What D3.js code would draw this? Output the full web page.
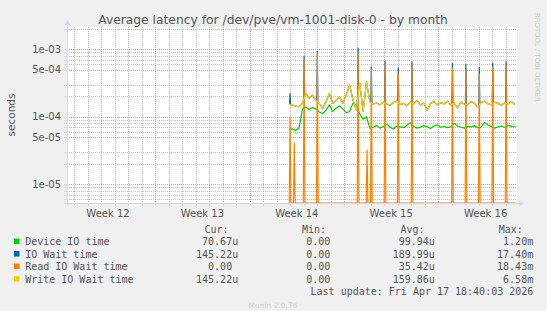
<!DOCTYPE html>
<html>
<head>
<meta charset="utf-8">
<script src="https://cdn.jsdelivr.net/npm/d3@7"></script>
<style>
body { margin: 0; background: #f0f0f0; }
svg text { font-family: "DejaVu Sans", sans-serif; fill: #555; }
svg text.mono { font-family: "DejaVu Sans Mono", monospace; font-size: 10px; }
</style>
</head>
<body>
<svg id="chart" width="547" height="311"></svg>
<script>
// ---- data (latencies in microseconds) ----
var sampleStart = Date.UTC(2026, 3, 1, 22, 0);   // first 6h sample
var sampleStepHours = 6;

var deviceIO = [65, 66, 63, 68, 130, 140, 128, 138, 130, 118, 112, 125, 150, 120, 135, 145,
  130, 115, 120, 160, 150, 110, 92, 100, 68, 70,
  74, 68, 72, 78, 70, 66, 73, 71, 69, 75, 82, 72, 68, 70, 74, 71, 67, 73, 76, 70, 72,
  69, 71, 80, 73, 70, 68, 72, 71, 74, 69, 70, 82, 76, 72, 68, 71, 73, 70, 75, 72, 71];

var writeWait = [155, 149, 144, 141, 158, 222, 187, 210, 177, 158, 133, 167, 222, 158, 177, 198,
  158, 210, 295, 177, 126, 312, 119, 330, 167, 155,
  160, 150, 165, 155, 148, 162, 170, 152, 158, 145, 165, 155, 175, 150, 160, 125, 158,
  168, 150, 162, 155, 170, 148, 160, 135, 165, 155, 150, 168, 158, 140, 162, 170, 155,
  150, 165, 158, 148, 162, 155, 168, 152];

// short peaks (nightly jobs)
var ioWaitSpikes = [
  ["2026-04-02T00:00Z", 220], ["2026-04-03T01:00Z", 790], ["2026-04-04T00:30Z", 940],
  ["2026-04-07T01:00Z", 1040], ["2026-04-08T00:40Z", 550], ["2026-04-09T01:00Z", 670],
  ["2026-04-10T00:30Z", 530], ["2026-04-11T01:00Z", 650], ["2026-04-14T01:00Z", 620],
  ["2026-04-15T01:00Z", 600], ["2026-04-16T00:45Z", 540], ["2026-04-17T00:45Z", 630],
  ["2026-04-18T00:30Z", 650]];

var readSpikes = [
  ["2026-04-02T00:00Z", 100], ["2026-04-02T07:30Z", 41], ["2026-04-03T01:00Z", 690],
  ["2026-04-04T00:30Z", 880], ["2026-04-07T01:00Z", 900], ["2026-04-07T17:00Z", 32],
  ["2026-04-08T00:40Z", 490], ["2026-04-09T01:00Z", 580], ["2026-04-10T00:30Z", 440],
  ["2026-04-11T01:00Z", 560], ["2026-04-14T01:00Z", 530], ["2026-04-15T01:00Z", 510],
  ["2026-04-16T00:45Z", 430], ["2026-04-17T00:45Z", 550], ["2026-04-18T00:30Z", 560]];

var weekStarts = ["2026-03-16", "2026-03-23", "2026-03-30", "2026-04-06", "2026-04-13"];
var weekLabels = ["Week 12", "Week 13", "Week 14", "Week 15", "Week 16"];

var yTicks = [1e-3, 5e-4, 1e-4, 5e-5, 1e-5];
var yTickLabels = ["1e-03", "5e-04", "1e-04", "5e-05", "1e-05"];

var legendNames = ["Device IO time", "IO Wait time", "Read IO Wait time", "Write IO Wait time"];
var legendColors = ["#00cc00", "#0066b3", "#ff8000", "#ffcc00"];
var curVals = ["70.67u", "145.22u", "0.00", "145.22u"];
var minVals = ["0.00", "0.00", "0.00", "0.00"];
var avgVals = ["99.94u", "189.99u", "35.42u", "159.86u"];
var maxVals = ["1.20m", "17.40m", "18.43m", "6.58m"];

// ---- chart ----
var svg = d3.select("#chart");
var gridColor = "rgba(143,143,143,0.55)";
var mgridColor = "rgba(222,79,79,0.6)";
var axisColor = "#cfd6f8";

var x = d3.scaleUtc()
  .domain([Date.UTC(2026, 2, 16, 11, 2), Date.UTC(2026, 3, 18, 19, 52)])
  .range([67, 517]);
var y = d3.scaleLog().domain([5.28e-6, 2.14e-3]).range([203, 27]).clamp(true);
var yMin = y.domain()[0];

svg.append("rect").attr("x", 67).attr("y", 27).attr("width", 450).attr("height", 176).attr("fill", "#fff");

var crisp = function(v){ return Math.round(v) + 0.5; };

// minor horizontal grid
var minorY = [];
[-6, -5, -4, -3].forEach(function(e){
  [2, 3, 6, 7, 8, 9].forEach(function(m){
    var v = m * Math.pow(10, e);
    if (v > y.domain()[0] && v < y.domain()[1]) minorY.push(v);
  });
});
svg.append("g").selectAll("line").data(minorY).enter().append("line")
  .attr("x1", 67).attr("x2", 517)
  .attr("y1", function(d){ return crisp(y(d)); }).attr("y2", function(d){ return crisp(y(d)); })
  .attr("stroke", gridColor).attr("stroke-dasharray", "1,1");

// daily vertical grid
var days = d3.utcDay.range(x.domain()[0], x.domain()[1]).filter(function(d){ return d.getUTCDay() != 1; });
svg.append("g").selectAll("line").data(days).enter().append("line")
  .attr("y1", 27).attr("y2", 203)
  .attr("x1", function(d){ return crisp(x(d)); }).attr("x2", function(d){ return crisp(x(d)); })
  .attr("stroke", gridColor).attr("stroke-dasharray", "1,1");

// major grid
svg.append("g").selectAll("line").data(yTicks).enter().append("line")
  .attr("x1", 67).attr("x2", 517)
  .attr("y1", function(d){ return crisp(y(d)); }).attr("y2", function(d){ return crisp(y(d)); })
  .attr("stroke", mgridColor).attr("stroke-dasharray", "1,1");
var mondays = d3.utcMonday.range(x.domain()[0], x.domain()[1]);
svg.append("g").selectAll("line").data(mondays).enter().append("line")
  .attr("y1", 27).attr("y2", 203)
  .attr("x1", function(d){ return crisp(x(d)); }).attr("x2", function(d){ return crisp(x(d)); })
  .attr("stroke", mgridColor).attr("stroke-dasharray", "1,1");

// axis ticks
svg.append("g").selectAll("line").data(days.concat(mondays)).enter().append("line")
  .attr("y1", 203).attr("y2", 206)
  .attr("x1", function(d){ return crisp(x(d)); }).attr("x2", function(d){ return crisp(x(d)); })
  .attr("stroke", axisColor);
svg.append("g").selectAll("line").data(yTicks.concat(minorY)).enter().append("line")
  .attr("x1", 64).attr("x2", 67)
  .attr("y1", function(d){ return crisp(y(d)); }).attr("y2", function(d){ return crisp(y(d)); })
  .attr("stroke", axisColor);

// series
var samples = function(vals){
  return vals.map(function(v, i){ return { t: new Date(sampleStart + i * sampleStepHours * 3600e3), v: v }; });
};
var green = samples(deviceIO);
var yellow = samples(writeWait);

var yellowAt = function(t){
  var i = d3.bisector(function(d){ return d.t; }).left(yellow, t);
  if (i <= 0) return yellow[0].v;
  if (i >= yellow.length) return yellow[yellow.length - 1].v;
  var a = yellow[i - 1], b = yellow[i];
  return a.v + (b.v - a.v) * (t - a.t) / (b.t - a.t);
};

var withSpikes = function(base, spikes, baseFn, half){
  var pts = base.slice();
  spikes.forEach(function(s){
    var t = new Date(s[0]);
    var t0 = new Date(+t - half * 3600e3), t1 = new Date(+t + half * 3600e3);
    pts.push({ t: t0, v: baseFn(t0) }, { t: t, v: s[1] }, { t: t1, v: baseFn(t1) });
  });
  return pts.sort(function(a, b){ return a.t - b.t; });
};

var blue = withSpikes(yellow, ioWaitSpikes, yellowAt, 1);
var orange = withSpikes([{ t: yellow[0].t, v: 0 }, { t: yellow[yellow.length - 1].t, v: 0 }],
  readSpikes, function(){ return 0; }, 1.5);

var line = d3.line()
  .x(function(d){ return x(d.t); })
  .y(function(d){ return y(Math.max(d.v * 1e-6, yMin)); });

[[green, legendColors[0]], [blue, legendColors[1]], [orange, legendColors[2]], [yellow, legendColors[3]]]
  .forEach(function(s){
    svg.append("path").attr("d", line(s[0])).attr("fill", "none")
      .attr("stroke", s[1]).attr("stroke-width", 1.2).attr("stroke-linejoin", "round");
  });

// axes with arrows
svg.append("line").attr("x1", 64).attr("x2", 520).attr("y1", 203.5).attr("y2", 203.5).attr("stroke", axisColor);
svg.append("line").attr("x1", 67.5).attr("x2", 67.5).attr("y1", 206).attr("y2", 24).attr("stroke", axisColor);
svg.append("path").attr("d", "M519,200.5 L524,203.5 L519,206.5 Z").attr("fill", axisColor);
svg.append("path").attr("d", "M64.5,25 L67.5,20 L70.5,25 Z").attr("fill", axisColor);

// labels
svg.append("text").attr("x", 273).attr("y", 24).attr("text-anchor", "middle")
  .style("font-size", "12.3px").text("Average latency for /dev/pve/vm-1001-disk-0 - by month");

svg.append("text").attr("transform", "translate(15,115) rotate(-90)").attr("text-anchor", "middle")
  .style("font-size", "10.5px").text("seconds");

svg.append("g").selectAll("text").data(yTicks).enter().append("text")
  .attr("x", 61).attr("y", function(d){ return y(d) + 3.6; }).attr("text-anchor", "end")
  .style("font-size", "10px").text(function(d, i){ return yTickLabels[i]; });

svg.append("g").selectAll("text").data(weekStarts).enter().append("text")
  .attr("x", function(d){ return x(new Date(Date.parse(d + "T00:00Z") + 3.5 * 864e5)); })
  .attr("y", 216.5).attr("text-anchor", "middle")
  .style("font-size", "10px").text(function(d, i){ return weekLabels[i]; });

// legend
var colEnds = [238.2, 336.3, 434.9, 533.2];
var headEnds = [228.5, 326.1, 424.5, 522.9];
["Cur:", "Min:", "Avg:", "Max:"].forEach(function(h, i){
  svg.append("text").attr("class", "mono").attr("x", headEnds[i]).attr("y", 232.7)
    .attr("text-anchor", "end").text(h);
});
var rowY = [245, 257.5, 270, 282.6];
var pad = function(s){ return /[a-z]$/.test(s) ? s : s + "\u00a0"; };
legendNames.forEach(function(name, i){
  svg.append("rect").attr("x", 14).attr("y", rowY[i] - 6.5).attr("width", 5.5).attr("height", 5.5)
    .attr("fill", legendColors[i]);
  svg.append("text").attr("class", "mono").attr("x", 25.2).attr("y", rowY[i]).text(name);
  [curVals, minVals, avgVals, maxVals].forEach(function(col, j){
    svg.append("text").attr("class", "mono").attr("x", colEnds[j]).attr("y", rowY[i])
      .attr("text-anchor", "end").text(pad(col[i]));
  });
});
svg.append("text").attr("class", "mono").attr("x", 533.3).attr("y", 295.2).attr("text-anchor", "end")
  .text("Last update: Fri Apr 17 18:40:03 2026");

svg.append("text").attr("x", 273).attr("y", 308).attr("text-anchor", "middle")
  .style("font-size", "7.5px").style("fill", "#ccc").text("Munin 2.0.76");
svg.append("text").attr("transform", "translate(535,13) rotate(90)")
  .style("font-size", "6.9px").style("fill", "#ccc").text("RRDTOOL / TOBI OETIKER");
</script>
</body>
</html>
